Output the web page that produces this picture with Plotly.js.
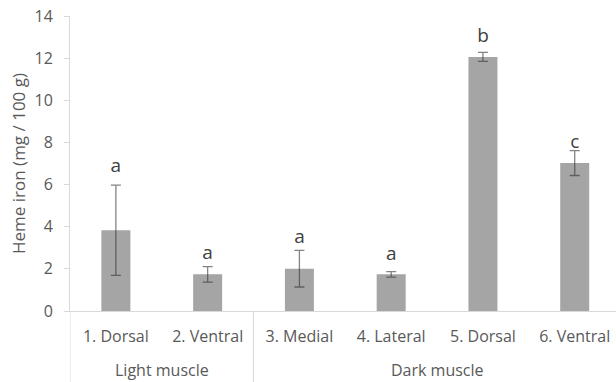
<!DOCTYPE html>
<html>
<head>
<meta charset="utf-8">
<script src="https://cdn.plot.ly/plotly-3.0.1.min.js"></script>
<style>html,body{margin:0;padding:0;background:#fff;overflow:hidden}</style>
</head>
<body>
<div id="chart" style="width:616px;height:382px"></div>
<script>
const groups = ['Light muscle','Light muscle','Dark muscle','Dark muscle','Dark muscle','Dark muscle'];
const segments = ['1. Dorsal','2. Ventral','3. Medial','4. Lateral','5. Dorsal','6. Ventral'];
const hemeIron = [3.83, 1.74, 2.01, 1.74, 12.06, 7.02];
const errors = [2.14, 0.37, 0.87, 0.13, 0.21, 0.59];
const letters = ['a','a','a','a','b','c'];
const letterY = [6.82, 2.68, 3.46, 2.66, 13.0, 7.97];

const textColor = '#595959';
const lineColor = '#d9d9d9';

// group spans derived from the groups array (category index positions)
const spans = [];
groups.forEach((g, i) => {
  const last = spans[spans.length - 1];
  if (last && last.name === g) last.end = i; else spans.push({name: g, start: i, end: i});
});
const annotations = spans.map(s => ({
  text: s.name, xref: 'x', yref: 'paper', x: (s.start + s.end) / 2, y: -0.2,
  xanchor: 'center', yanchor: 'middle', showarrow: false,
  font: {family: 'Open Sans', size: 16, color: textColor}
}));
const boundaries = [spans[0].start - 0.5].concat(spans.map(s => s.end + 0.5));
const shapes = boundaries.map(b => ({
  type: 'line', xref: 'x', yref: 'paper', x0: b, x1: b, y0: 0, y1: -0.3,
  line: {color: lineColor, width: 1}
}));

const data = [
  {
    type: 'bar',
    x: segments,
    y: hemeIron,
    width: 0.316,
    marker: {color: '#a5a5a5'},
    error_y: {type: 'data', array: errors, visible: true, color: 'rgba(50,50,50,0.6)', thickness: 1.3, width: 5},
    hoverinfo: 'none'
  },
  {
    type: 'scatter',
    mode: 'text',
    x: segments,
    y: letterY,
    text: letters,
    textposition: 'middle center',
    textfont: {family: 'Open Sans', size: 19, color: '#404040'},
    hoverinfo: 'none'
  }
];
const layout = {
  width: 616, height: 382,
  margin: {l: 70, r: 0, t: 16, b: 71, pad: 0},
  paper_bgcolor: '#fff', plot_bgcolor: '#fff',
  showlegend: false,
  font: {family: 'Open Sans', size: 16, color: textColor},
  annotations: annotations,
  shapes: shapes,
  xaxis: {
    type: 'category',
    range: [-0.5, 5.45],
    showline: true, linecolor: lineColor, linewidth: 1,
    ticks: '', showgrid: false, zeroline: false,
    ticklabelstandoff: 11,
    tickfont: {family: 'Open Sans', size: 16, color: textColor}
  },
  yaxis: {
    range: [0, 14], dtick: 2,
    showline: true, linecolor: lineColor, linewidth: 1,
    ticks: 'outside', ticklen: 5, tickcolor: lineColor,
    showgrid: false, zeroline: false,
    ticklabelstandoff: 8,
    tickfont: {family: 'Open Sans', size: 16, color: textColor},
    title: {text: 'Heme iron (mg / 100 g)', font: {family: 'Open Sans', size: 17, color: textColor}, standoff: 4}
  }
};
Plotly.newPlot('chart', data, layout, {staticPlot: true, displayModeBar: false});
</script>
</body>
</html>
